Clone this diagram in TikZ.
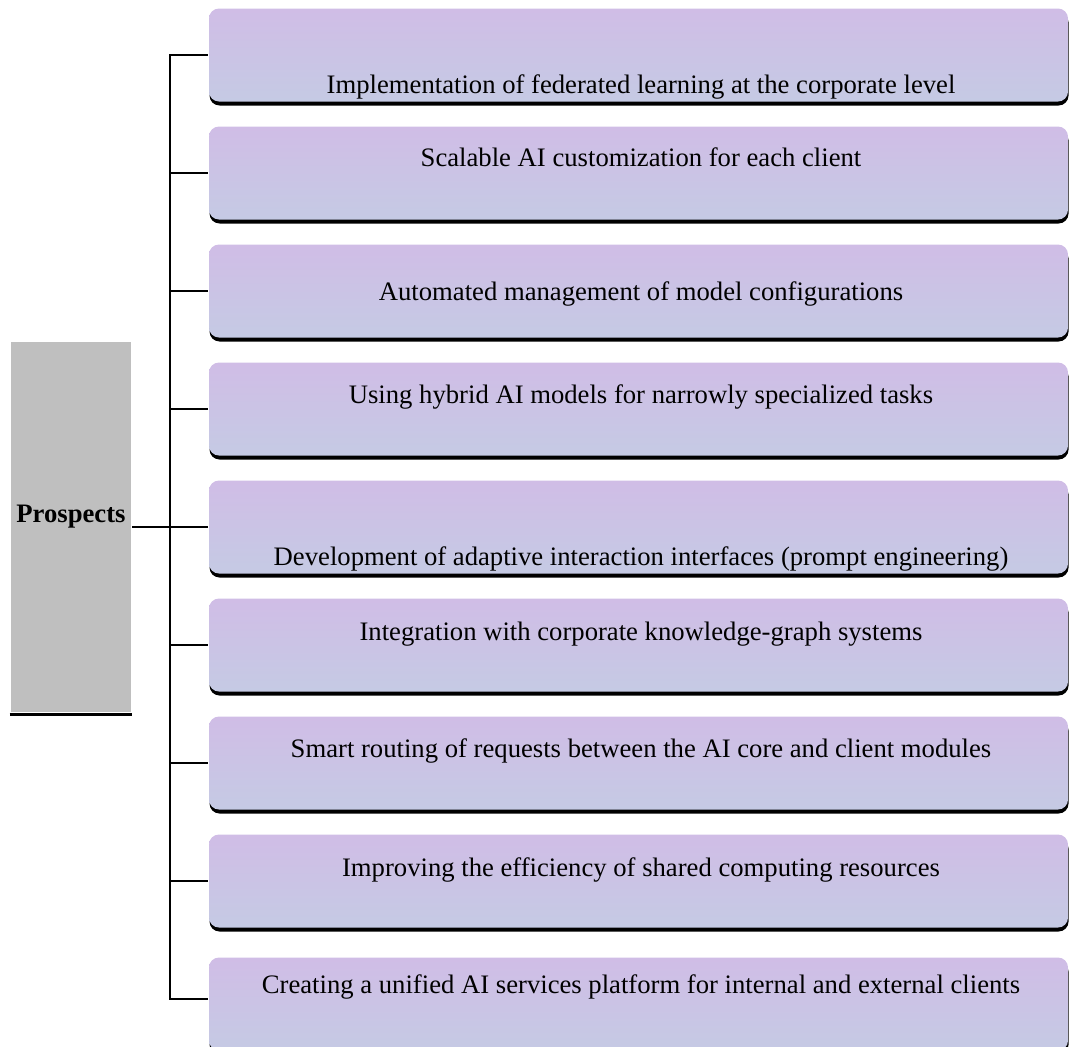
\documentclass[tikz,border=0pt]{standalone}
\usepackage{fontspec}
\setmainfont{Liberation Serif}
\usetikzlibrary{shadows}
\definecolor{ptop}{RGB}{208,189,230}
\definecolor{pbot}{RGB}{197,202,228}
\definecolor{pgray}{RGB}{191,191,191}

\begin{document}
\begin{tikzpicture}[x=0.75pt, y=-0.75pt, line width=2pt,
    font=\fontsize{20}{24}\selectfont,
    itembox/.style={rounded corners=7.5pt, top color=ptop, bottom color=pbot,
      minimum width=644.25pt, minimum height=69.75pt, inner sep=0pt,
      drop shadow={shadow xshift=0.4pt, shadow yshift=-3pt, fill=black, opacity=1}},
    itemtext/.style={anchor=base, inner sep=0pt}]
  \useasboundingbox (0,0) rectangle (1069,1046);
  \clip (0,0) rectangle (1069,1046);

  % root block on the left
  \node[fill=pgray, minimum width=90pt, minimum height=277.5pt, inner sep=0pt]
    (root) at (71,527) {};
  \node[itemtext, font=\fontsize{20}{24}\selectfont\bfseries] (rootlabel) at (71,522) {Prospects};
  \draw[line width=2.4pt] ([yshift=-1pt]root.south west) -- ([yshift=-1pt]root.south east);

  % the nine prospects
  \node[itembox] (p1) at (638.5,55) {};
  \node[itembox] (p2) at (638.5,173) {};
  \node[itembox] (p3) at (638.5,291) {};
  \node[itembox] (p4) at (638.5,409) {};
  \node[itembox] (p5) at (638.5,527) {};
  \node[itembox] (p6) at (638.5,645) {};
  \node[itembox] (p7) at (638.5,763) {};
  \node[itembox] (p8) at (638.5,881) {};
  \node[itembox] (p9) at (638.5,1004) {};

  \node[itemtext] (t1) at (641,93) {Implementation of federated learning at the corporate level};
  \node[itemtext] (t2) at (641,166) {Scalable AI customization for each client};
  \node[itemtext] (t3) at (641,300) {Automated management of model configurations};
  \node[itemtext] (t4) at (641,403) {Using hybrid AI models for narrowly specialized tasks};
  \node[itemtext] (t5) at (641,565) {Development of adaptive interaction interfaces (prompt engineering)};
  \node[itemtext] (t6) at (641,640) {Integration with corporate knowledge-graph systems};
  \node[itemtext] (t7) at (641,757) {Smart routing of requests between the AI core and client modules};
  \node[itemtext] (t8) at (641,876) {Improving the efficiency of shared computing resources};
  \node[itemtext] (t9) at (641,993) {Creating a unified AI services platform for internal and external clients};

  % bus and branches
  \coordinate (bus) at (170,0);
  \coordinate (end) at (170,999);
  \draw (p1.west) -- (p1.west -| bus) -- (end) -- (end -| p9.west);
  \draw (p2.west -| bus) -- (p2.west);
  \draw (p3.west -| bus) -- (p3.west);
  \draw (p4.west -| bus) -- (p4.west);
  \draw (p6.west -| bus) -- (p6.west);
  \draw (p7.west -| bus) -- (p7.west);
  \draw (p8.west -| bus) -- (p8.west);
  \draw (root.east) -- (p5.west);
\end{tikzpicture}
\end{document}
